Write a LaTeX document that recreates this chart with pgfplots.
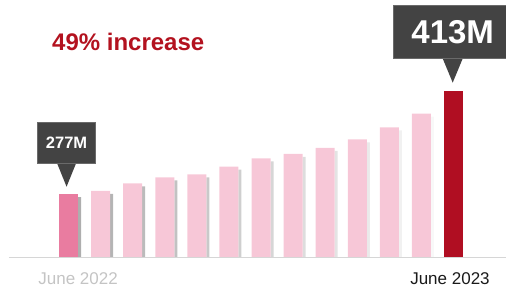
\documentclass[border=0pt]{standalone}
\usepackage{pgfplots}
\pgfplotsset{compat=1.18}
\usepackage{fontspec}
\setmainfont{Liberation Sans}
\definecolor{pinkA}{HTML}{E97CA0}
\definecolor{pinkB}{HTML}{F7C7D7}
\definecolor{crimson}{HTML}{B00E22}
\definecolor{boxgray}{HTML}{434343}
\definecolor{boxedge}{HTML}{6A6A6A}
\definecolor{redtext}{HTML}{B3121F}
\definecolor{lightlab}{HTML}{C4C4C4}
\definecolor{darklab}{HTML}{1A1A1A}
\definecolor{axisgray}{HTML}{D6D6D6}
\begin{document}
\begin{tikzpicture}
\useasboundingbox (0,0) rectangle (506pt,294pt);
\begin{axis}[
  at={(9pt,37pt)}, anchor=south west,
  scale only axis, width=497pt, height=257pt,
  xmin=-0.8546, xmax=14.636, ymin=193.8, ymax=533.1,
  axis y line=none, axis x line=bottom,
  axis line style={-, draw=axisgray, line width=0.8pt},
  xtick={1.30,12.89},
  xticklabels={\textcolor{lightlab}{June 2022}, \textcolor{darklab}{June 2023}},
  major tick length=0pt,
  xticklabel style={anchor=base, yshift=-28pt, font=\fontsize{17}{20}\selectfont},
  ytick=\empty,
]
% shadows
\addplot[ybar, bar width=3pt, bar shift=11pt, draw=none, left color=black!32, right color=white]
  coordinates {(1,273) (2,277) (3,287) (4,295) (5,299) (6,309) (7,320) (8,326) (9,334) (10,345) (11,361) (12,379) (13,409)};
% bars
\addplot[ybar, bar width=19pt, bar shift=0pt, fill=pinkA, draw=none] coordinates {(1,277)};
\addplot[ybar, bar width=19pt, bar shift=0pt, fill=pinkB, draw=none]
  coordinates {(2,281) (3,291) (4,299) (5,303) (6,313) (7,324) (8,330) (9,338) (10,349) (11,365) (12,383)};
\addplot[ybar, bar width=19pt, bar shift=0pt, fill=crimson, draw=none] coordinates {(13,413)};
% callouts
\fill[boxgray] (axis cs:0.94,286.6) -- ++(-9.2pt,22.7pt) -- ++(18.4pt,0pt) -- cycle;
\node[fill=boxgray, draw=boxedge, line width=0.6pt, minimum width=58.4pt, minimum height=41.7pt,
      inner sep=0pt, anchor=south, text=white, font=\bfseries\fontsize{16.5}{16.5}\selectfont]
  at ([yshift=22.7pt]axis cs:0.94,286.6) {277M};
\fill[boxgray] (axis cs:12.975,424) -- ++(-9.85pt,23.7pt) -- ++(19.7pt,0pt) -- cycle;
\node[fill=boxgray, draw=boxedge, line width=0.6pt, minimum width=118pt, minimum height=53pt,
      inner sep=0pt, anchor=south, text=white, font=\bfseries\fontsize{33}{33}\selectfont]
  at ([yshift=23.7pt]axis cs:12.975,424) {413M};
\end{axis}
\node[anchor=base west, inner sep=0pt, text=redtext, font=\bfseries\fontsize{24}{28}\selectfont]
  at (52pt,243pt) {49\% increase};
\end{tikzpicture}
\end{document}
